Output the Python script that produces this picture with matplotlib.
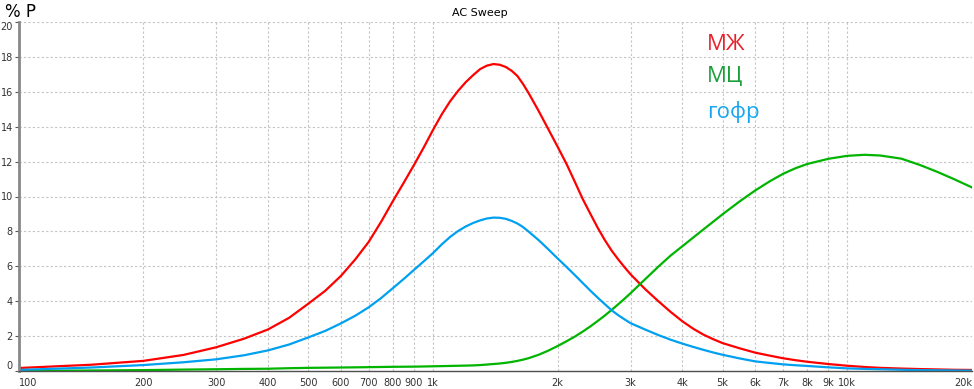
import matplotlib
matplotlib.use("Agg")
import matplotlib.pyplot as plt

# frequency grid (Hz) and values (% P)
freq = [100, 150, 200, 250, 300, 350, 400, 450, 500, 550, 600, 650, 700, 750, 800, 850, 900, 950,
        1000, 1050, 1100, 1150, 1200, 1250, 1300, 1350, 1400, 1450, 1500, 1550, 1600, 1650, 1700, 1800, 1900, 2000,
        2100, 2200, 2300, 2400, 2500, 2600, 2700, 2800, 2900, 3000, 3250, 3500, 3750, 4000, 4250, 4500, 4750, 5000, 5500,
        6000, 6500, 7000, 7500, 8000, 9000, 10000, 11000, 12000, 13500, 15000, 16500, 18000, 20000]

mzh = [0.17, 0.36, 0.58, 0.92, 1.36, 1.85, 2.38, 3.05, 3.85, 4.6, 5.45, 6.4, 7.4, 8.55, 9.72, 10.78, 11.8, 12.8,
       13.8, 14.7, 15.45, 16.05, 16.55, 16.95, 17.3, 17.5, 17.59, 17.55, 17.42, 17.2, 16.9, 16.45, 15.95, 14.9, 13.85, 12.85,
       11.88, 10.85, 9.85, 9.0, 8.2, 7.5, 6.9, 6.4, 5.95, 5.54, 4.7, 4.0, 3.38, 2.85, 2.42, 2.08, 1.82, 1.6, 1.3,
       1.05, 0.88, 0.73, 0.62, 0.53, 0.4, 0.3, 0.23, 0.18, 0.14, 0.11, 0.09, 0.07, 0.06]

mts = [0.0, 0.03, 0.05, 0.08, 0.1, 0.12, 0.13, 0.16, 0.18, 0.19, 0.2, 0.21, 0.22, 0.23, 0.24, 0.245, 0.25, 0.26,
       0.27, 0.28, 0.29, 0.3, 0.31, 0.32, 0.34, 0.37, 0.4, 0.43, 0.47, 0.52, 0.58, 0.65, 0.73, 0.93, 1.17, 1.43,
       1.7, 1.97, 2.26, 2.56, 2.87, 3.18, 3.5, 3.82, 4.14, 4.46, 5.25, 5.98, 6.62, 7.15, 7.65, 8.12, 8.56, 8.98, 9.72,
       10.35, 10.87, 11.3, 11.62, 11.86, 12.16, 12.33, 12.39, 12.35, 12.17, 11.8, 11.41, 11.02, 10.52]

gofr = [0.06, 0.2, 0.34, 0.5, 0.67, 0.9, 1.18, 1.52, 1.92, 2.3, 2.73, 3.17, 3.65, 4.18, 4.74, 5.27, 5.79, 6.28,
        6.75, 7.25, 7.68, 8.02, 8.28, 8.48, 8.63, 8.74, 8.79, 8.78, 8.72, 8.6, 8.45, 8.25, 8.0, 7.5, 6.97, 6.45,
        5.97, 5.5, 5.04, 4.6, 4.2, 3.83, 3.48, 3.2, 2.96, 2.74, 2.38, 2.06, 1.79, 1.57, 1.38, 1.21, 1.06, 0.93, 0.72,
        0.55, 0.46, 0.38, 0.33, 0.29, 0.21, 0.15, 0.12, 0.1, 0.07, 0.05, 0.04, 0.03, 0.02]

x_ticks = [100, 200, 300, 400, 500, 600, 700, 800, 900,
           1000, 2000, 3000, 4000, 5000, 6000, 7000, 8000, 9000, 10000, 20000]
x_labels = ["100", "200", "300", "400", "500", "600", "700", "800", "900",
            "1k", "2k", "3k", "4k", "5k", "6k", "7k", "8k", "9k", "10k", "20k"]
y_ticks = [0, 2, 4, 6, 8, 10, 12, 14, 16, 18, 20]

series = [
    ("МЖ", mzh, "#ff0000", "#e8202a"),
    ("МЦ", mts, "#00b400", "#1a9e3a"),
    ("гофр", gofr, "#00a0f0", "#17a6f0"),
]

fig = plt.figure(figsize=(9.74, 3.89), dpi=100)
ax = fig.add_axes([18.5 / 974, 1 - 371 / 389, (972 - 18.5) / 974, (371 - 22) / 389])

for name, vals, color, _ in series:
    ax.plot(freq, vals, color=color, lw=1.6, solid_joinstyle="round")

ax.set_xscale("log")
ax.set_xlim(100, 20000)
ax.set_ylim(0, 20)

ax.set_xticks(x_ticks)
ax.set_xticklabels(x_labels)
ax.xaxis.set_minor_locator(matplotlib.ticker.NullLocator())
ax.set_yticks(y_ticks)
ax.set_yticklabels([str(v) for v in y_ticks])

ax.tick_params(axis="x", length=0, pad=5, labelsize=7, labelcolor="#333333")
ax.tick_params(axis="y", length=3, width=0.8, pad=1, labelsize=7,
               labelcolor="#333333", color="#555555")

xl = ax.get_xticklabels()
xl[0].set_horizontalalignment("left")
xl[-1].set_horizontalalignment("right")
yl = ax.get_yticklabels()
yl[0].set_verticalalignment("bottom")
yl[-1].set_verticalalignment("top")

ax.grid(True, which="major", color="#c4c4c4", linestyle=(0, (2, 2)), lw=0.8)
ax.set_axisbelow(True)

for s in ["top", "right"]:
    ax.spines[s].set_visible(False)
ax.spines["left"].set_color("#888888")
ax.spines["left"].set_linewidth(2)
ax.spines["bottom"].set_color("#505050")
ax.spines["bottom"].set_linewidth(1)

fig.text(5 / 974, 1 - 17 / 389, "% P", fontsize=12, va="baseline", ha="left")
fig.text(480 / 974, 1 - 16 / 389, "AC Sweep", fontsize=8, va="baseline", ha="center")

# coloured series names in the upper right
label_y = [50, 81.5, 118]
for (name, _, _, tcolor), yb in zip(series, label_y):
    fig.text(707 / 974, 1 - yb / 389, name, fontsize=16, color=tcolor,
             family="Open Sans", va="baseline", ha="left")

fig.savefig("out.png", dpi=100)
